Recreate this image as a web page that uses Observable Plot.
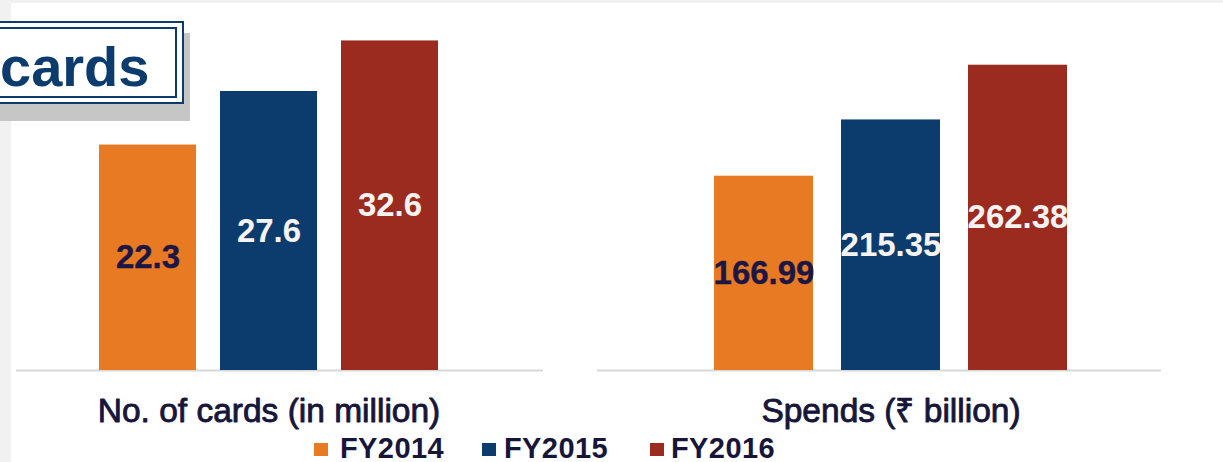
<!DOCTYPE html>
<html><head><meta charset="utf-8">
<script src="https://cdn.jsdelivr.net/npm/d3@7"></script>
<script src="https://cdn.jsdelivr.net/npm/@observablehq/plot@0.6"></script>
<style>
html,body{margin:0;padding:0;}
body{width:1223px;height:462px;background:#f1f1f1;position:relative;overflow:hidden;font-family:"Liberation Sans",Arial,sans-serif;}
#page{position:absolute;left:11px;top:3px;width:1212px;height:459px;background:#fff;}
#left,#right{position:absolute;top:0;}
#left{left:0px;} #right{left:580px;}
#shadow{position:absolute;left:0;top:33px;width:190px;height:88px;background:#c6c6c6;}
#ghostband{position:absolute;left:0;top:98px;width:160px;height:14px;background:linear-gradient(#dcdcdc,#bdbdbd);opacity:0.35;}
#box{position:absolute;left:-10px;top:21px;width:194px;height:83px;box-sizing:border-box;border:2px solid #0c3b6d;background:#fff;}
#boxinner{position:absolute;left:4px;top:4px;right:5px;bottom:4px;border:2px solid #0c3b6d;}
#title{position:absolute;left:0px;top:39px;font-size:56px;line-height:56px;font-weight:bold;color:#0c3b6d;}
.lg{position:absolute;font-size:29px;line-height:29px;font-weight:bold;color:#17163a;letter-spacing:0.4px;top:434px;}
.sw{position:absolute;width:14px;height:13px;top:443px;}
</style></head><body>
<div id="page"></div>
<div id="left"></div><div id="right"></div>
<div id="shadow"></div>
<div id="box"><div id="boxinner"></div></div>
<div id="title">cards</div>
<div id="legend"></div>
<script>
const years = ["FY2014", "FY2015", "FY2016"];
const colors = ["#e97a24", "#0c3c6e", "#9b2a1f"];
const labelColors = ["#1c1645", "#f7f3f3", "#f7f3f3"];
const cardsValues = [22.3, 27.6, 32.6];
const cardsLabels = ["22.3", "27.6", "32.6"];
const spendsValues = [166.99, 215.35, 262.38];
const spendsLabels = ["166.99", "215.35", "262.38"];
const panelTitles = ["No. of cards (in million)", "Spends (\u20B9 billion)"];

function panel(values, labels, title, opts) {
  const data = years.map((y, i) => ({year: y, value: values[i], label: labels[i], lc: labelColors[i]}));
  const dark = labelColors[0];
  const textBase = {x: "year", y: d => d.value / 2, text: "label", fontSize: 33, fontWeight: "bold", fontFamily: "Liberation Sans, Arial, sans-serif"};
  return Plot.plot({
    width: opts.width, height: 440,
    marginLeft: opts.ml, marginRight: opts.mr, marginTop: 0, marginBottom: 70,
    style: {background: "transparent", overflow: "visible"},
    x: {domain: years, range: opts.xr, paddingInner: opts.pi, paddingOuter: 0, axis: null},
    y: {domain: [0, opts.ymax], axis: null},
    color: {domain: years, range: colors},
    marks: [
      Plot.ruleY([0], {stroke: "#d8d8d8", strokeWidth: 2}),
      Plot.barY(data, {x: "year", y: "value", fill: "year"}),
      Plot.text(data, {...textBase, filter: d => d.lc === dark, fill: dark, stroke: dark, strokeWidth: 0.4}),
      Plot.text(data, {...textBase, filter: d => d.lc !== dark, fill: labelColors[1]}),
      Plot.text([title], {x: () => years[1], y: () => 0, dy: 41, text: d => d, fontSize: 33.5, fill: "#17163a", stroke: "#17163a", strokeWidth: 0.9, fontFamily: "Liberation Sans, Arial, sans-serif"})
    ]
  });
}

document.getElementById("left").appendChild(panel(cardsValues, cardsLabels, panelTitles[0],
  {width: 580, ml: 16, mr: 37, xr: [98, 438], pi: 0.2, ymax: 36.6}));
document.getElementById("right").appendChild(panel(spendsValues, spendsLabels, panelTitles[1],
  {width: 643, ml: 17, mr: 62, xr: [133, 488], pi: 0.22, ymax: 318}));

// legend
const lg = document.getElementById("legend");
const swLeft = [314, 482, 650];
const txLeft = [340, 504, 671];
years.forEach((y, i) => {
  const s = document.createElement("div");
  s.className = "sw"; s.style.left = swLeft[i] + "px"; s.style.background = colors[i];
  lg.appendChild(s);
  const t = document.createElement("div");
  t.className = "lg"; t.style.left = txLeft[i] + "px"; t.textContent = y;
  lg.appendChild(t);
});
</script>
</body></html>
